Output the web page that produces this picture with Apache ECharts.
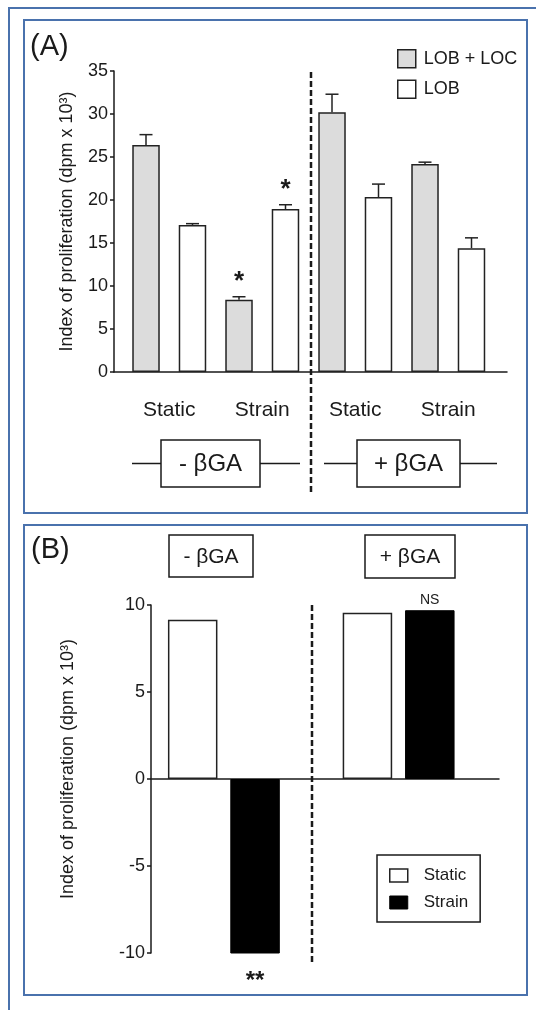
<!DOCTYPE html>
<html><head><meta charset="utf-8">
<script src="https://cdn.jsdelivr.net/npm/echarts@6/dist/echarts.min.js"></script>
<style>html,body{margin:0;padding:0;background:#fff}#c{width:536px;height:1010px}</style>
</head><body><div id="c"></div>
<script>
// ---------- Panel A data ----------
const categoriesA = ['Static', 'Strain', 'Static', 'Strain'];
const lobLocMean = [26.4, 8.4, 30.2, 24.2];
const lobLocErr = [1.2, 0.35, 2.1, 0.2];
const lobLocSig = ['', '*', '', ''];
const lobMean = [17.1, 18.95, 20.35, 14.4];
const lobErr = [0.15, 0.5, 1.5, 1.2];
const lobSig = ['', '*', '', ''];
const ticksA = [0, 5, 10, 15, 20, 25, 30, 35];
const groupLabelsA = ['- βGA', '+ βGA'];

// ---------- Panel B data ----------
const categoriesB = ['- βGA', '+ βGA'];
const staticB = [9.15, 9.55];
const strainB = [-10.4, 9.7];
const staticSigB = ['', ''];
const strainSigB = ['**', 'NS'];
const ticksB = [-10, -5, 0, 5, 10];

const FONT = '"Liberation Sans", Arial, sans-serif';
const INK = '#1a1a1a';
const FRAME = '#4a72ad';
const yName = 'Index of proliferation (dpm x 10³)';

function errSeries(means, errs, sigs, offset) {
  return {
    type: 'custom', xAxisIndex: 1, yAxisIndex: 1, silent: true, z: 5,
    data: means.map((m, i) => [i, m, m + errs[i]]),
    renderItem(params, api) {
      const i = api.value(0);
      const band = api.size([1, 0])[0];
      const base = api.coord([i, api.value(1)]);
      const top = api.coord([i, api.value(2)]);
      const x = base[0] + offset * band;
      const ls = { stroke: '#222', lineWidth: 1.5 };
      const children = [
        { type: 'line', shape: { x1: x, y1: base[1], x2: x, y2: top[1] }, style: ls },
        { type: 'line', shape: { x1: x - 6.5, y1: top[1], x2: x + 6.5, y2: top[1] }, style: ls }
      ];
      const s = sigs[params.dataIndex];
      if (s) children.push({ type: 'text', style: { text: s, x: x, y: top[1] - 2, align: 'center', verticalAlign: 'bottom', font: 'bold 26px ' + FONT, fill: INK } });
      return { type: 'group', children };
    }
  };
}

function sigSeriesB(values, sigs, offset) {
  return {
    type: 'custom', xAxisIndex: 3, yAxisIndex: 3, silent: true, z: 5,
    data: values.map((v, i) => [i, v]),
    renderItem(params, api) {
      const s = sigs[params.dataIndex];
      if (!s) return null;
      const i = api.value(0), v = api.value(1);
      const band = api.size([1, 0])[0];
      const p = api.coord([i, v]);
      const x = p[0] + offset * band;
      const neg = v < 0;
      const big = s.indexOf('*') >= 0;
      return { type: 'text', style: {
        text: s, x: x, y: neg ? p[1] + 9 : p[1] - 3,
        align: 'center', verticalAlign: neg ? 'top' : 'bottom',
        font: (big ? 'bold 24px ' : '14px ') + FONT, fill: INK } };
    }
  };
}

function boxLabel(cx, cy, w, h, text, fs, lineL, lineR) {
  const els = [
    { type: 'rect', shape: { x: cx - w / 2, y: cy - h / 2, width: w, height: h }, style: { fill: '#fff', stroke: INK, lineWidth: 1.5 } },
    { type: 'text', style: { text, x: cx, y: cy + 1, align: 'center', verticalAlign: 'middle', font: fs + 'px ' + FONT, fill: INK } }
  ];
  if (lineL != null) els.push({ type: 'line', shape: { x1: lineL, y1: cy, x2: cx - w / 2, y2: cy }, style: { stroke: INK, lineWidth: 1.5 } });
  if (lineR != null) els.push({ type: 'line', shape: { x1: cx + w / 2, y1: cy, x2: lineR, y2: cy }, style: { stroke: INK, lineWidth: 1.5 } });
  return els;
}

const axisLineStyle = { color: INK, width: 1.5 };

const option = {
  animation: false,
  backgroundColor: '#fff',
  textStyle: { fontFamily: FONT },
  grid: [
    { left: 114, top: 71, width: 393, height: 301 },
    { left: 122.75, top: 71, width: 372, height: 301 },
    { left: 151, top: 605, width: 348, height: 348 },
    { left: 136.5, top: 605, width: 349.5, height: 348 }
  ],
  xAxis: [
    { gridIndex: 0, type: 'value', min: 0, max: 1, axisLine: { show: true, lineStyle: axisLineStyle }, axisTick: { show: false }, axisLabel: { show: false }, splitLine: { show: false } },
    { gridIndex: 1, type: 'category', data: categoriesA, axisLine: { show: false }, axisTick: { show: false },
      axisLabel: { fontSize: 21, color: INK, margin: 28, fontFamily: FONT } },
    { gridIndex: 2, type: 'value', min: 0, max: 1, axisLine: { show: true, onZero: true, lineStyle: axisLineStyle }, axisTick: { show: false }, axisLabel: { show: false }, splitLine: { show: false } },
    { gridIndex: 3, type: 'category', data: categoriesB, show: false }
  ],
  yAxis: [
    { gridIndex: 0, type: 'value', min: ticksA[0], max: ticksA[ticksA.length - 1], interval: ticksA[1] - ticksA[0],
      axisLine: { show: true, lineStyle: axisLineStyle }, axisTick: { show: true, length: 4, lineStyle: axisLineStyle },
      axisLabel: { fontSize: 18, color: INK, margin: 6, fontFamily: FONT }, splitLine: { show: false },
      name: yName, nameLocation: 'middle', nameGap: 38, nameTextStyle: { fontSize: 18, color: INK, fontFamily: FONT } },
    { gridIndex: 1, type: 'value', min: ticksA[0], max: ticksA[ticksA.length - 1], show: false },
    { gridIndex: 2, type: 'value', min: ticksB[0], max: ticksB[ticksB.length - 1], interval: ticksB[1] - ticksB[0],
      axisLine: { show: true, lineStyle: axisLineStyle }, axisTick: { show: true, length: 4, lineStyle: axisLineStyle },
      axisLabel: { fontSize: 18, color: INK, margin: 6, fontFamily: FONT }, splitLine: { show: false },
      name: yName, nameLocation: 'middle', nameGap: 74, nameTextStyle: { fontSize: 18, color: INK, fontFamily: FONT, padding: [0, 0, 0, 20] } },
    { gridIndex: 3, type: 'value', min: ticksB[0], max: ticksB[ticksB.length - 1], show: false }
  ],
  legend: [
    { orient: 'vertical', left: 397, top: 49, padding: 0, itemWidth: 18, itemHeight: 18, itemGap: 11,
      selectedMode: false,
      textStyle: { fontSize: 18, color: INK, fontFamily: FONT, padding: [0, 0, 0, 3] },
      data: [
        { name: 'LOB + LOC', icon: 'rect', itemStyle: { color: '#dcdcdc', borderColor: '#222', borderWidth: 1.5 } },
        { name: 'LOB', icon: 'rect', itemStyle: { color: '#fff', borderColor: '#222', borderWidth: 1.5 } }
      ] },
    { orient: 'vertical', left: 377, top: 855, padding: [12, 12, 11, 12], itemWidth: 18, itemHeight: 13, itemGap: 10,
      borderColor: INK, borderWidth: 1.5, selectedMode: false,
      textStyle: { fontSize: 17, color: INK, fontFamily: FONT, padding: [0, 0, 0, 11] },
      data: [
        { name: 'Static', icon: 'rect', itemStyle: { color: '#fff', borderColor: '#222', borderWidth: 1.5 } },
        { name: 'Strain', icon: 'rect', itemStyle: { color: '#000', borderColor: '#000', borderWidth: 1 } }
      ] }
  ],
  series: [
    { name: 'LOB + LOC', type: 'bar', xAxisIndex: 1, yAxisIndex: 1, data: lobLocMean, barWidth: 27.5, barGap: '69%',
      itemStyle: { color: '#dcdcdc', borderColor: '#222', borderWidth: 1.5 } },
    { name: 'LOB', type: 'bar', xAxisIndex: 1, yAxisIndex: 1, data: lobMean, barWidth: 27.5, barGap: '69%',
      itemStyle: { color: '#fff', borderColor: '#222', borderWidth: 1.5 } },
    errSeries(lobLocMean, lobLocErr, lobLocSig, -0.25),
    errSeries(lobMean, lobErr, lobSig, 0.25),
    { name: 'Static', type: 'bar', xAxisIndex: 3, yAxisIndex: 3, data: staticB, barWidth: 49.5, barGap: '26%',
      itemStyle: { color: '#fff', borderColor: '#222', borderWidth: 1.5 } },
    { name: 'Strain', type: 'bar', xAxisIndex: 3, yAxisIndex: 3, data: strainB, barWidth: 49.5, barGap: '26%',
      itemStyle: { color: '#000', borderColor: '#000', borderWidth: 1 } },
    sigSeriesB(staticB, staticSigB, -0.178),
    sigSeriesB(strainB, strainSigB, 0.178)
  ],
  graphic: [
    { type: 'rect', silent: true, shape: { x: 9, y: 8, width: 620, height: 1100 }, style: { fill: 'none', stroke: FRAME, lineWidth: 2 } },
    { type: 'rect', silent: true, shape: { x: 24, y: 20, width: 503, height: 493 }, style: { fill: 'none', stroke: FRAME, lineWidth: 2 } },
    { type: 'rect', silent: true, shape: { x: 24, y: 525, width: 503, height: 470 }, style: { fill: 'none', stroke: FRAME, lineWidth: 2 } },
    { type: 'text', silent: true, style: { text: '(A)', x: 30, y: 47, verticalAlign: 'middle', font: '29px ' + FONT, fill: INK } },
    { type: 'text', silent: true, style: { text: '(B)', x: 31, y: 550, verticalAlign: 'middle', font: '29px ' + FONT, fill: INK } },
    { type: 'line', silent: true, shape: { x1: 311, y1: 72, x2: 311, y2: 495 }, style: { stroke: INK, lineWidth: 2.5, lineDash: [6, 3] } },
    { type: 'line', silent: true, shape: { x1: 312, y1: 605, x2: 312, y2: 962 }, style: { stroke: INK, lineWidth: 2.5, lineDash: [6, 3] } },
    ...boxLabel(210.5, 463.5, 99, 47, groupLabelsA[0], 24, 132, 300),
    ...boxLabel(408.5, 463.5, 103, 47, groupLabelsA[1], 24, 324, 497),
    ...boxLabel(211, 556, 84, 42, categoriesB[0], 21, null, null),
    ...boxLabel(410, 556.5, 90, 43, categoriesB[1], 21, null, null)
  ]
};

const chart = echarts.init(document.getElementById('c'), null, { renderer: 'canvas' });
chart.setOption(option);
</script>
</body></html>
